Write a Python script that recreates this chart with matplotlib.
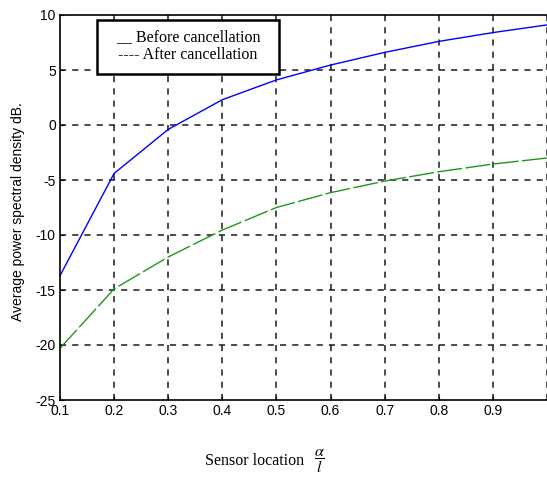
import matplotlib
matplotlib.use("Agg")
import matplotlib.pyplot as plt
from matplotlib.patches import Rectangle

# data
sensor_loc = [0.1, 0.2, 0.3, 0.4, 0.5, 0.6, 0.7, 0.8, 0.9, 1.0]
before_db = [-13.7, -4.4, -0.4, 2.3, 4.1, 5.45, 6.6, 7.6, 8.4, 9.1]
after_db = [-20.3, -14.9, -12.0, -9.55, -7.5, -6.15, -5.1, -4.25, -3.55, -3.0]
x_ticks = [0.1, 0.2, 0.3, 0.4, 0.5, 0.6, 0.7, 0.8, 0.9]
x_grid = [0.1, 0.2, 0.3, 0.4, 0.5, 0.6, 0.7, 0.8, 0.9, 1.0]
y_ticks = [-25, -20, -15, -10, -5, 0, 5, 10]

plt.rcParams['mathtext.fontset'] = 'stix'

fig = plt.figure(figsize=(5.47, 4.94), dpi=100)
ax = fig.add_axes([60/547, 94/494, 487/547, 385/494])

ax.plot(sensor_loc, before_db, color='#0000ff', lw=1.0)
ax.plot(sensor_loc, after_db, color='#1e961e', lw=1.0, linestyle=(0, (18, 2.5)))

ax.set_xlim(0.1, 1.0)
ax.set_ylim(-25, 10)
ax.set_xticks(x_ticks)
ax.set_xticklabels([f"{v:.1f}" for v in x_ticks], family='Liberation Sans', fontsize=10)
ax.set_yticks(y_ticks)
ax.set_yticklabels([str(v) for v in y_ticks], family='Liberation Sans', fontsize=10)
ax.tick_params(direction='in', length=3, width=0.8, pad=3)

for xv in x_grid[1:]:
    ax.axvline(xv, color='#1a1a1a', lw=1.1, linestyle=(0, (4, 4)), zorder=0)
for yv in y_ticks[1:-1]:
    ax.axhline(yv, color='#1a1a1a', lw=1.1, linestyle=(0, (4, 4)), zorder=0)

for s in ['left', 'bottom', 'top']:
    ax.spines[s].set_linewidth(1.2)
ax.spines['right'].set_visible(False)

fig.text(18/547, 1 - 212/494, "Average power spectral density dB.", family='Liberation Sans',
         fontsize=10, rotation=90, ha='center', va='center')

fig.text(255/547, 1 - 461/494, "Sensor location", family='Liberation Serif',
         fontsize=11.5, ha='center', va='center')
fig.text(319/547, 1 - 461/494, r"$\dfrac{\alpha}{l}$",
         fontsize=11.5, ha='center', va='center')

# legend box (text-style legend)
rect = Rectangle((97/547, 1 - 74/494), (279-97)/547, (74-20)/494, transform=fig.transFigure,
                 facecolor='white', edgecolor='black', lw=1.8, zorder=5)
fig.patches.append(rect)
fig.text(188/547, 1 - 37/494, "__ Before cancellation", family='Liberation Serif', fontsize=11.5,
         ha='center', va='center', zorder=6)
fig.text(188/547, 1 - 55/494, "---- After cancellation", family='Liberation Serif', fontsize=11.5,
         ha='center', va='center', zorder=6)

fig.savefig("out.png", dpi=100)
